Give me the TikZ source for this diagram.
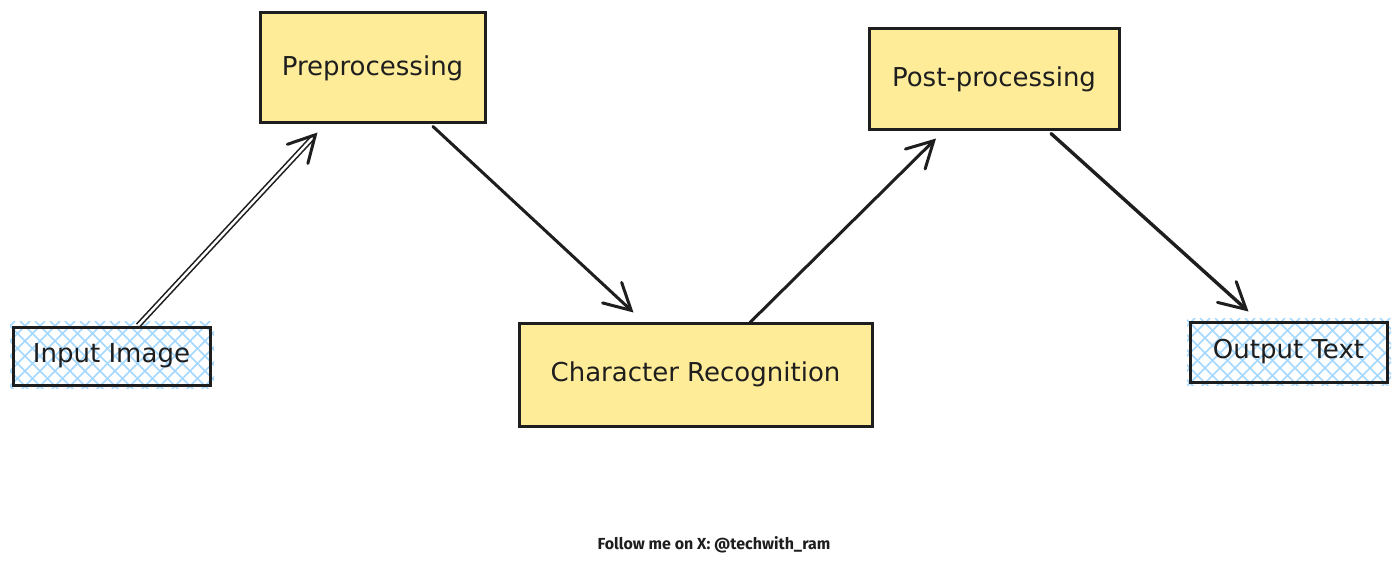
\documentclass[tikz,border=0pt]{standalone}
\usepackage{fontspec}
\setmainfont{DejaVu Sans}
\newfontfamily\footfont{Fira Sans}
\usetikzlibrary{arrows.meta}
\definecolor{boxyellow}{HTML}{FFEC99}
\definecolor{hatchblue}{HTML}{A5D8FF}
\definecolor{ink}{HTML}{1E1E1E}
\tikzset{
  box/.style={rectangle, draw=ink, line width=3pt, font=\fontsize{26}{30}\selectfont, text=ink, inner sep=0pt},
  yellowbox/.style={box, fill=boxyellow},
  hatchbox/.style={box},
  arr/.style={draw=ink, line width=3pt, line cap=round, -{Straight Barb[length=26pt,width=28pt,line width=3pt,line cap=round]}},
  dblarr/.style={draw=ink, line width=1.6pt, double=white, double distance=2.4pt, -{Straight Barb[length=26pt,width=28pt,line width=3pt,line cap=round]}},
  hatch/.style={hatchblue, line width=1.6pt}
}
\begin{document}
\begin{tikzpicture}[x=1pt,y=-1pt]
\useasboundingbox (0,0) rectangle (1400,567);
\fill[white] (0,0) rectangle (1400,567);

% hatch backgrounds
\begin{scope}
  \clip (10,321) rectangle (214,388);
  \foreach \i in {-100,-85,...,320} {
    \draw[hatch] (\i,321) -- ++(70,70);
    \draw[hatch] (\i,391) -- ++(70,-70);
  }
\end{scope}
\begin{scope}
  \clip (1187,318) rectangle (1391,385);
  \foreach \i in {1080,1095,...,1500} {
    \draw[hatch] (\i,318) -- ++(70,70);
    \draw[hatch] (\i,388) -- ++(70,-70);
  }
\end{scope}

\node[hatchbox, minimum width=197pt, minimum height=58pt] (in) at (111.5,356) {Input Image};
\node[yellowbox, minimum width=225pt, minimum height=110pt] (pre) at (372.5,68) {Preprocessing};
\node[yellowbox, minimum width=353pt, minimum height=103pt] (cr) at (695.5,374.5) {Character Recognition};
\node[yellowbox, minimum width=250pt, minimum height=101pt] (post) at (994,79.5) {Post-processing};
\node[hatchbox, minimum width=197pt, minimum height=60pt] (out) at (1288.5,352) {Output Text};

\draw[dblarr] ([xshift=26.5pt]in.north) -- ([xshift=-55pt,yshift=-8pt]pre.south);
\draw[arr] ([xshift=60.5pt,yshift=-2pt]pre.south) -- ([xshift=-62pt,yshift=9pt]cr.north);
\draw[arr] ([xshift=54.5pt,yshift=-1pt]cr.north) -- ([xshift=-58pt,yshift=-7pt]post.south);
\draw[arr, line width=3.4pt] ([xshift=57pt,yshift=-2pt]post.south) -- ([xshift=-40pt,yshift=9pt]out.north);

\node[font=\footfont\bfseries\fontsize{16}{18}\selectfont, text=ink] (foot) at (714,545) {Follow me on X: @techwith\_ram};
\end{tikzpicture}
\end{document}
